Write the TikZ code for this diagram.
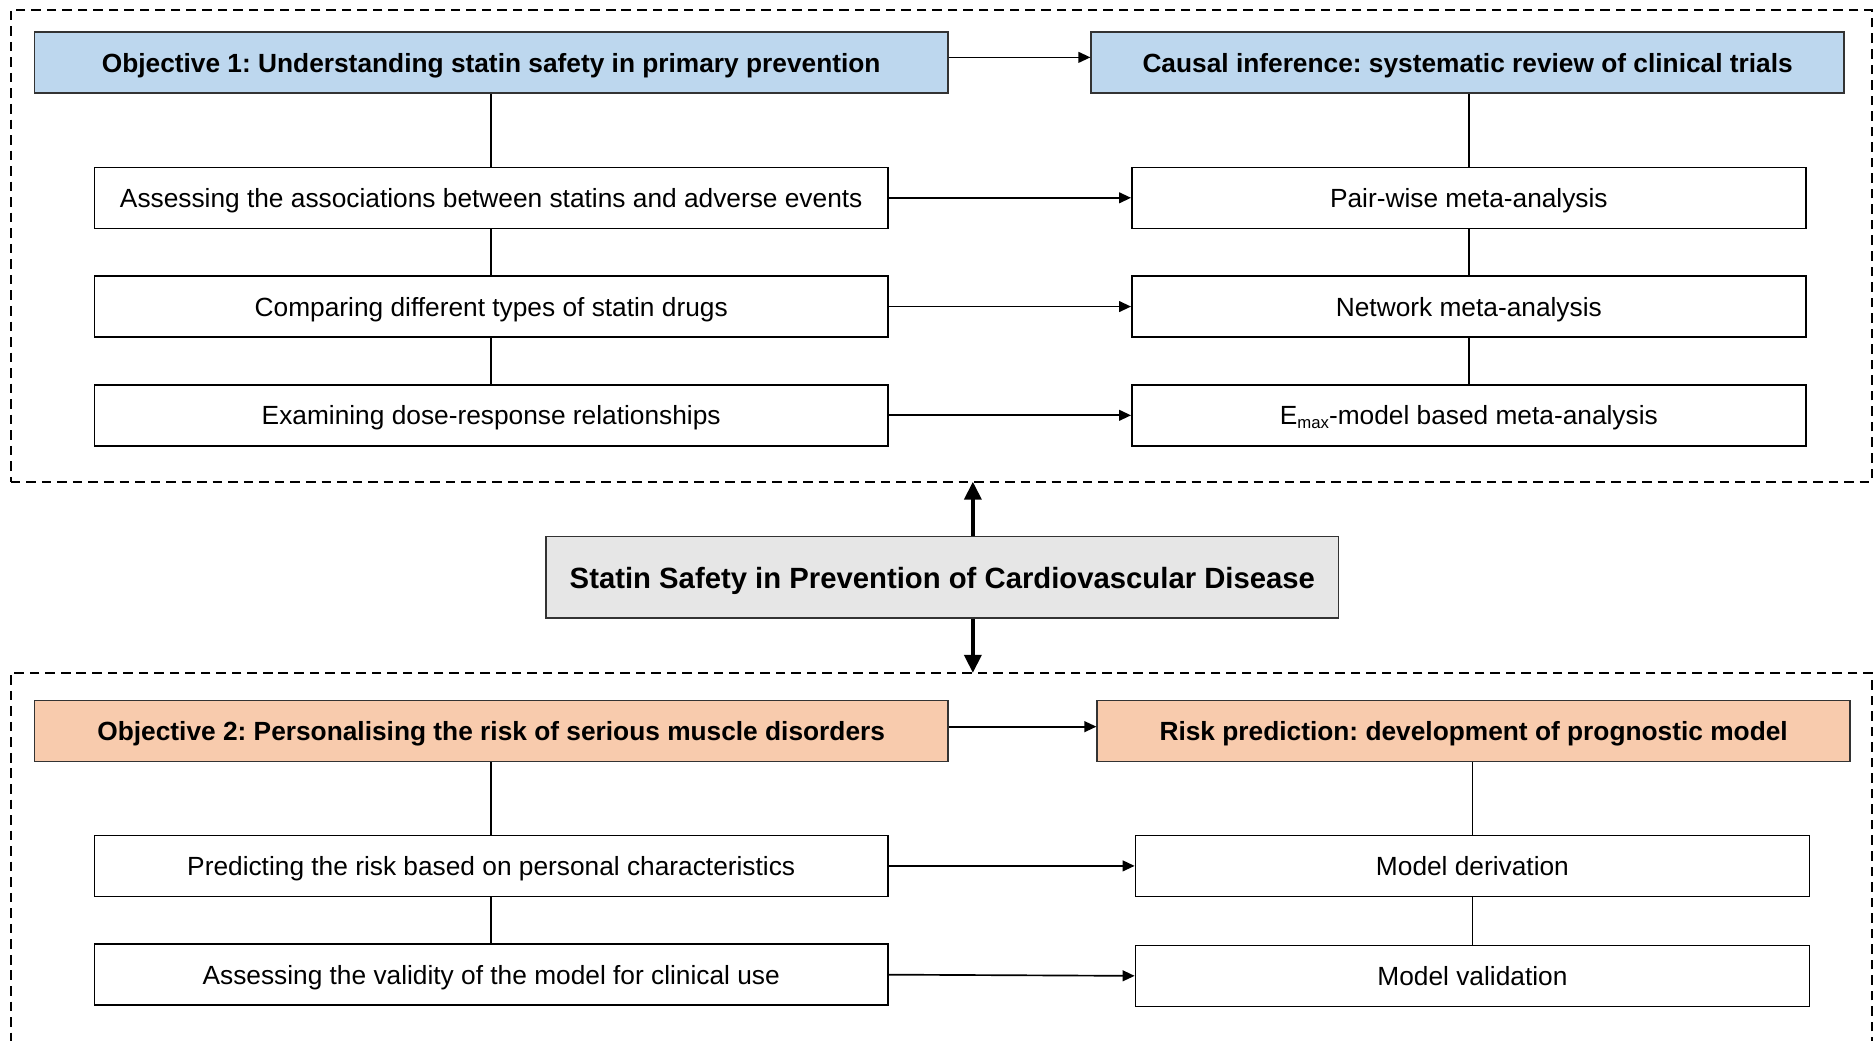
\documentclass[tikz,border=0pt]{standalone}
\usepackage{fontspec}
\setmainfont{Liberation Sans}
\usetikzlibrary{arrows.meta,calc}
\definecolor{hblue}{RGB}{189,215,238}
\definecolor{hpeach}{RGB}{248,203,173}
\definecolor{hgray}{RGB}{230,230,230}
\frenchspacing
\tikzset{
  sbox/.style={draw=black, line width=1.3pt, fill=white, minimum height=51pt, inner sep=0pt, text height=16pt, text depth=0pt, font=\fontsize{22}{26}\selectfont},
  lbox/.style={sbox, minimum width=664pt},
  rbox/.style={sbox, minimum width=564pt},
  hbox/.style={draw=black!80, line width=1.3pt, minimum height=51pt, inner sep=0pt, text height=16pt, text depth=0pt, font=\bfseries\fontsize{22}{26}\selectfont},
  frame/.style={draw=black, line width=1.6pt, dash pattern=on 8pt off 5pt, inner sep=0pt},
  conn/.style={line width=1.3pt},
  arr/.style={line width=1.4pt, -{Triangle[length=10pt,width=9pt]}},
  bigarr/.style={line width=3.5pt, -{Triangle[length=15pt,width=14pt]}},
}
\begin{document}
\frenchspacing
\begin{tikzpicture}[x=1pt,y=-1pt]
\useasboundingbox (0,0) rectangle (1568,871);
% frames
\node[frame, minimum width=1557pt, minimum height=395pt] (topframe) at (787.5,205.5) {};
\node[frame, minimum width=1557pt, minimum height=420pt] (botframe) at (787.5,773) {};
% top section
\node[hbox, fill=hblue, minimum width=764pt] (obj1) at (411,52.5) {Objective 1: Understanding statin safety in primary prevention};
\node[hbox, fill=hblue, minimum width=630pt] (causal) at (1228,52.5) {Causal inference: systematic review of clinical trials};
\node[lbox] (a1) at (411,165.5) {Assessing the associations between statins and adverse events};
\node[lbox] (a2) at (411,256.5) {Comparing different types of statin drugs};
\node[lbox] (a3) at (411,347.5) {Examining dose-response relationships};
\node[rbox] (b1) at (1229,165.5) {Pair-wise meta-analysis};
\node[rbox] (b2) at (1229,256.5) {Network meta-analysis};
\node[rbox] (b3) at (1229,347.5) {E{\fontsize{14}{14}\selectfont\raisebox{-3pt}{max}}-model based meta-analysis};
% center
\node[hbox, fill=hgray, minimum width=663pt, minimum height=68pt, text height=18pt, font=\bfseries\fontsize{24.5}{28}\selectfont] (mid) at (788.5,483) {Statin Safety in Prevention of Cardiovascular Disease};
% bottom section
\node[hbox, fill=hpeach, minimum width=764pt] (obj2) at (411,611.5) {Objective 2: Personalising the risk of serious muscle disorders};
\node[hbox, fill=hpeach, minimum width=630pt] (risk) at (1233,611.5) {Risk prediction: development of prognostic model};
\node[lbox] (c1) at (411,724.5) {Predicting the risk based on personal characteristics};
\node[lbox] (c2) at (411,815.5) {Assessing the validity of the model for clinical use};
\node[rbox] (d1) at (1232,724.5) {Model derivation};
\node[rbox] (d2) at (1232,816.5) {Model validation};
% vertical connectors
\draw[conn] (obj1.south) -- (a1.north);
\draw[conn] (a1.south) -- (a2.north);
\draw[conn] (a2.south) -- (a3.north);
\draw[conn] (causal.south -| b1.north) -- (b1.north);
\draw[conn] (b1.south) -- (b2.north);
\draw[conn] (b2.south) -- (b3.north);
\draw[conn] (obj2.south) -- (c1.north);
\draw[conn] (c1.south) -- (c2.north);
\draw[conn] (risk.south -| d1.north) -- (d1.north);
\draw[conn] (d1.south) -- (d2.north);
% horizontal arrows
\draw[arr] ([yshift=4.5pt]obj1.east) -- ([yshift=4.5pt]causal.west);
\draw[arr] (a1.east) -- (b1.west);
\draw[arr] (a2.east) -- (b2.west);
\draw[arr] (a3.east) -- (b3.west);
\draw[arr] ([yshift=3.5pt]obj2.east) -- ([yshift=3.5pt]risk.west);
\draw[arr] (c1.east) -- (d1.west);
\draw[arr] (c2.east) -- (d2.west);
% center arrows
\coordinate (ua) at (814,403);
\coordinate (da) at (814,563);
\draw[bigarr] (mid.north -| ua) -- (ua);
\draw[bigarr] (mid.south -| da) -- (da);
\end{tikzpicture}
\end{document}
